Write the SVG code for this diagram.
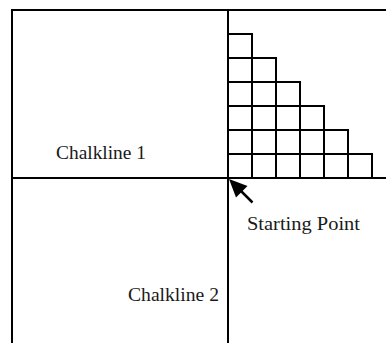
<svg xmlns="http://www.w3.org/2000/svg" width="386" height="343" viewBox="0 0 386 343">
<style>
.ln{stroke:#000;stroke-width:2;fill:none;stroke-linecap:square}
.sq{stroke:#000;stroke-width:2;fill:none}
.lbl{font-family:"Liberation Serif","Times New Roman",serif;font-size:19px;fill:#1a1a1a}
</style>
<rect width="386" height="343" fill="#fff"/>
<g id="connectors">
<line class="ln" x1="12" y1="10" x2="386" y2="10"/>
<line class="ln" x1="12" y1="10" x2="12" y2="343"/>
<line class="ln" x1="228" y1="10" x2="228" y2="343"/>
<line class="ln" x1="12" y1="178" x2="386" y2="178"/>
</g>
<g id="grid">
<path class="sq" d="M228,34H252V178 M228,58H276V178 M228,82H300V178 M228,106H324V178 M228,130H348V178 M228,154H372V178"/>
</g>
<g id="arrow">
<line x1="240" y1="190" x2="252.5" y2="202.5" stroke="#000" stroke-width="2.5"/>
<polygon points="229,179 236,197.5 247.5,186" fill="#000"/>
</g>
<g id="chalkline1"><text class="lbl" x="56" y="159" textLength="90" lengthAdjust="spacingAndGlyphs">Chalkline 1</text></g>
<g id="starting-point"><text class="lbl" x="247" y="230" textLength="113" lengthAdjust="spacingAndGlyphs">Starting Point</text></g>
<g id="chalkline2"><text class="lbl" x="128" y="301" textLength="91" lengthAdjust="spacingAndGlyphs">Chalkline 2</text></g>
</svg>
